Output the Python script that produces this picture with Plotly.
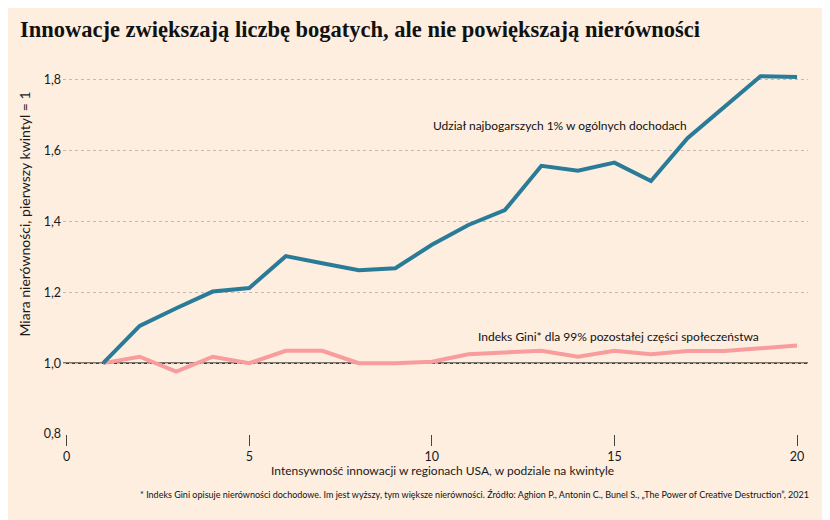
import plotly.graph_objects as go

quintiles = list(range(1, 21))
top1_share = [1.0, 1.105, 1.155, 1.202, 1.212, 1.302, 1.282, 1.262, 1.268, 1.334,
              1.39, 1.432, 1.557, 1.543, 1.566, 1.514, 1.635, 1.722, 1.81, 1.808]
gini_99 = [1.0, 1.018, 0.976, 1.018, 1.0, 1.035, 1.035, 1.0, 1.0, 1.004,
           1.025, 1.03, 1.035, 1.018, 1.035, 1.025, 1.034, 1.034, 1.042, 1.05]

y_ticks = [0.8, 1.0, 1.2, 1.4, 1.6, 1.8]
y_tick_labels = ["0,8", "1,0", "1,2", "1,4", "1,6", "1,8"]
x_ticks = [0, 5, 10, 15, 20]

title_text = "Innowacje zwiększają liczbę bogatych, ale nie powiększają nierówności"
label_top = "Udział najbogarszych 1% w ogólnych dochodach"
label_gini = "Indeks Gini* dla 99% pozostałej części społeczeństwa"
x_title = "Intensywność innowacji w regionach USA, w podziale na kwintyle"
y_title = "Miara nierówności, pierwszy kwintyl = 1"
footnote = ("* Indeks Gini opisuje nierówności dochodowe. Im jest wyższy, tym większe nierówności. "
            "Źródło: Aghion P., Antonin C., Bunel S., „The Power of Creative Destruction”, 2021")

BG = "#FDEEE0"
BLUE = "#2A7B97"
PINK = "#F89C9E"
TXT = "#1a1a1a"

fig = go.Figure()
fig.add_trace(go.Scatter(x=quintiles, y=gini_99, mode="lines",
                         line=dict(color=PINK, width=4), hoverinfo="skip"))
fig.add_trace(go.Scatter(x=quintiles, y=top1_share, mode="lines",
                         line=dict(color=BLUE, width=4), hoverinfo="skip"))

fig.add_shape(type="line", xref="paper", yref="y", x0=0, x1=1, y0=1.0, y1=1.0,
              line=dict(color="black", width=1.3), layer="between")

fig.update_layout(
    width=830, height=520,
    paper_bgcolor=BG, plot_bgcolor=BG,
    margin=dict(l=55, r=30, t=54, b=94),
    showlegend=False,
    font=dict(family="Lato", size=12, color=TXT),
    xaxis=dict(range=[-0.1, 20.3], tickvals=x_ticks, showgrid=False, zeroline=False,
               showline=False, ticks="outside", ticklen=11, tickcolor="#444", tickwidth=1,
               automargin=False,
               tickfont=dict(family="Lato", size=12.5, color=TXT)),
    yaxis=dict(range=[0.8, 1.85], tickvals=y_ticks, ticktext=y_tick_labels,
               showgrid=True, gridcolor="#C2B9AF", griddash="3px,3px", gridwidth=1,
               zeroline=False, showline=False, ticks="", ticklabelstandoff=1,
               automargin=False,
               tickfont=dict(family="Lato", size=12.5, color=TXT)),
    annotations=[
        dict(text="<b>" + title_text + "</b>", xref="paper", yref="paper", x=-0.06, y=1.0,
             xanchor="left", yanchor="bottom", yshift=18, xshift=0, showarrow=False,
             font=dict(family="Liberation Serif", size=22.5, color="#111")),
        dict(text=y_title, xref="paper", yref="paper", x=-0.051, y=0.59, textangle=-90,
             xanchor="center", yanchor="middle", showarrow=False,
             font=dict(family="Lato", size=14, color=TXT)),
        dict(text=x_title, xref="paper", yref="paper", x=0.5, y=0, xanchor="center",
             yanchor="middle", yshift=-36, xshift=7, showarrow=False,
             font=dict(family="Lato", size=12, color=TXT)),
        dict(text=label_top, xref="x", yref="y", x=13.5, y=1.672, showarrow=False,
             font=dict(family="Lato", size=12, color="#111")),
        dict(text=label_gini, xref="x", yref="y", x=15.12, y=1.075, showarrow=False,
             font=dict(family="Lato", size=12, color="#111")),
        dict(text=footnote, xref="paper", yref="paper", x=1.0, y=0, yanchor="middle",
             xanchor="right", yshift=-60, xshift=3, showarrow=False,
             font=dict(family="Lato", size=9, color="#111")),
    ],
)

fig.write_html("out.html")
